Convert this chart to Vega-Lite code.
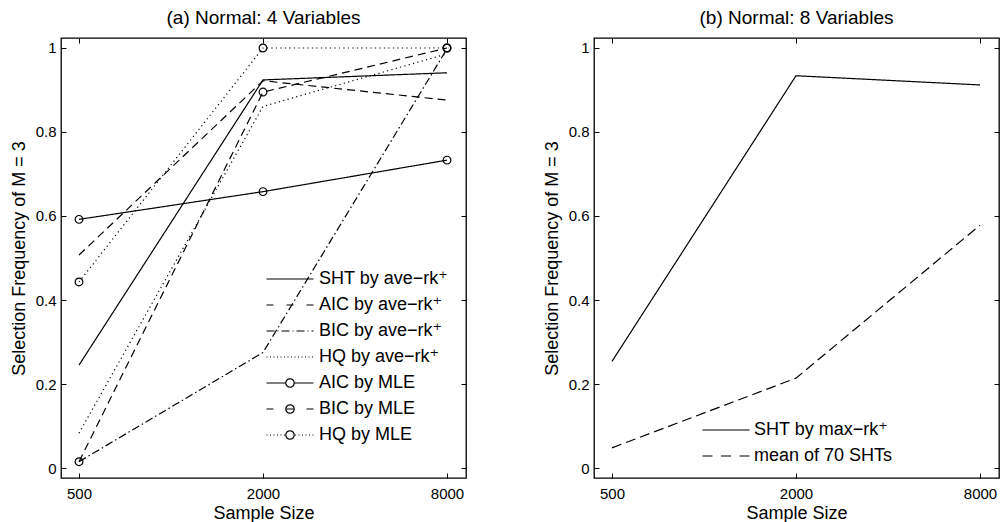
{
  "$schema": "https://vega.github.io/schema/vega-lite/v6.json",
  "padding": {"left": 9, "top": 7, "right": 0, "bottom": 0},
  "background": "white",
  "spacing": 128,
  "bounds": "flush",
  "config": {
    "font": "Liberation Sans",
    "view": {"stroke": "black", "strokeWidth": 1.3},
    "axis": {"domain": false, "grid": false, "tickColor": "black", "tickSize": -5, "tickWidth": 1, "labelFont": "Liberation Sans", "labelFontSize": 15, "labelColor": "black", "titleFont": "Liberation Sans", "titleFontSize": 18, "titleFontWeight": "normal", "titleColor": "black"},
    "title": {"font": "Liberation Sans", "fontSize": 19, "fontWeight": "normal", "color": "black", "offset": 10}
  },
  "resolve": {"scale": {"strokeDash": "independent", "shape": "independent"}, "legend": {"strokeDash": "independent", "shape": "independent"}},
  "hconcat": [
    {
      "width": 405,
      "height": 440,
      "title": {"text": "(a) Normal: 4 Variables"},
      "data": {"values": [
        {"n": 500, "value": 0.245, "series": "SHT by ave−rk⁺"},
        {"n": 2000, "value": 0.924, "series": "SHT by ave−rk⁺"},
        {"n": 8000, "value": 0.941, "series": "SHT by ave−rk⁺"},
        {"n": 500, "value": 0.507, "series": "AIC by ave−rk⁺"},
        {"n": 2000, "value": 0.922, "series": "AIC by ave−rk⁺"},
        {"n": 8000, "value": 0.876, "series": "AIC by ave−rk⁺"},
        {"n": 500, "value": 0.015, "series": "BIC by ave−rk⁺"},
        {"n": 2000, "value": 0.275, "series": "BIC by ave−rk⁺"},
        {"n": 8000, "value": 0.998, "series": "BIC by ave−rk⁺"},
        {"n": 500, "value": 0.083, "series": "HQ by ave−rk⁺"},
        {"n": 2000, "value": 0.861, "series": "HQ by ave−rk⁺"},
        {"n": 8000, "value": 0.986, "series": "HQ by ave−rk⁺"},
        {"n": 500, "value": 0.592, "series": "AIC by MLE"},
        {"n": 2000, "value": 0.658, "series": "AIC by MLE"},
        {"n": 8000, "value": 0.733, "series": "AIC by MLE"},
        {"n": 500, "value": 0.015, "series": "BIC by MLE"},
        {"n": 2000, "value": 0.895, "series": "BIC by MLE"},
        {"n": 8000, "value": 1.0, "series": "BIC by MLE"},
        {"n": 500, "value": 0.443, "series": "HQ by MLE"},
        {"n": 2000, "value": 1.0, "series": "HQ by MLE"},
        {"n": 8000, "value": 1.0, "series": "HQ by MLE"}
      ]},
      "layer": [
        {
          "mark": {"type": "line", "color": "black", "strokeWidth": 1.2, "strokeCap": "butt"},
          "encoding": {
            "x": {"field": "n", "type": "quantitative", "scale": {"type": "log", "domain": [436.6, 9231], "nice": false},
                  "axis": {"orient": "bottom", "values": [500, 2000, 8000], "format": "d", "title": "Sample Size", "labelPadding": 13, "titlePadding": 3}},
            "y": {"field": "value", "type": "quantitative", "scale": {"domain": [-0.0238, 1.0238], "nice": false, "zero": false},
                  "axis": {"orient": "left", "values": [0, 0.2, 0.4, 0.6, 0.8, 1], "format": "~g", "title": "Selection Frequency of M = 3", "labelPadding": 10, "titlePadding": 7}},
            "strokeDash": {"field": "series", "type": "nominal",
              "scale": {"range": [[1, 0], [8, 5], [8, 5], [8, 3, 1.5, 3], [1.2, 3.3], [1.2, 3.3], [1, 0]]},
              "legend": null
            }
          }
        },
        {
          "transform": [{"filter": {"field": "series", "oneOf": ["AIC by MLE", "BIC by MLE", "HQ by MLE"]}}],
          "mark": {"type": "point", "shape": "circle", "size": 60, "filled": false, "color": "black", "strokeWidth": 1.2, "opacity": 1},
          "encoding": {
            "x": {"field": "n", "type": "quantitative", "axis": {"orient": "top", "values": [500, 2000, 8000], "labels": false, "title": null}},
            "y": {"field": "value", "type": "quantitative", "axis": {"orient": "right", "values": [0, 0.2, 0.4, 0.6, 0.8, 1], "labels": false, "title": null}}
          }
        },
        {
          "mark": {"type": "point", "filled": false, "color": "black", "strokeWidth": 1.2, "size": 100, "opacity": 0},
          "encoding": {
            "x": {"field": "n", "type": "quantitative", "axis": null},
            "y": {"field": "value", "type": "quantitative", "axis": null},
            "shape": {"field": "series", "type": "nominal",
              "scale": {"domain": ["SHT by ave−rk⁺", "AIC by ave−rk⁺", "BIC by ave−rk⁺", "HQ by ave−rk⁺", "AIC by MLE", "BIC by MLE", "HQ by MLE"],
                "range": [
                  "M-4.7,0H4.7",
                  "M-4.7,0H-3.3M-0.7,0H0.7M3.3,0H4.7",
                  "M-4.7,0H-3.1M-2.5,0H-2.3M-1.7,0H-0.1M0.5,0H0.7M1.3,0H2.9M3.5,0H3.7M4.3,0H4.7",
                  "M-4.7,0h0.2M-4,0h0.2M-3.3,0h0.2M-2.6,0h0.2M-1.9,0h0.2M-1.2,0h0.2M-0.5,0h0.2M0.2,0h0.2M0.9,0h0.2M1.6,0h0.2M2.3,0h0.2M3,0h0.2M3.7,0h0.2M4.4,0h0.2",
                  "M-4.7,0H-0.85M0.85,0H4.7M0.85,0L0.785,0.325L0.601,0.601L0.325,0.785L0,0.85L-0.325,0.785L-0.601,0.601L-0.785,0.325L-0.85,0L-0.785,-0.325L-0.601,-0.601L-0.325,-0.785L0,-0.85L0.325,-0.785L0.601,-0.601L0.785,-0.325Z",
                  "M-4.7,0H-3.3M-0.7,0H0.7M3.3,0H4.7M0.85,0L0.785,0.325L0.601,0.601L0.325,0.785L0,0.85L-0.325,0.785L-0.601,0.601L-0.785,0.325L-0.85,0L-0.785,-0.325L-0.601,-0.601L-0.325,-0.785L0,-0.85L0.325,-0.785L0.601,-0.601L0.785,-0.325Z",
                  "M-4.7,0h0.2M-4,0h0.2M-3.3,0h0.2M-2.6,0h0.2M-1.9,0h0.2M-1.2,0h0.2M1,0h0.2M1.7,0h0.2M2.4,0h0.2M3.1,0h0.2M3.8,0h0.2M4.5,0h0.2M0.85,0L0.785,0.325L0.601,0.601L0.325,0.785L0,0.85L-0.325,0.785L-0.601,0.601L-0.785,0.325L-0.85,0L-0.785,-0.325L-0.601,-0.601L-0.325,-0.785L0,-0.85L0.325,-0.785L0.601,-0.601L0.785,-0.325Z"
                ]},
              "legend": {"orient": "none", "legendX": 220, "legendY": 232, "title": null, "padding": 0,
                "labelFont": "Liberation Sans, DejaVu Sans", "labelFontSize": 18, "labelColor": "black", "labelOffset": 20, "labelLimit": 300,
                "rowPadding": 8, "symbolSize": 100, "symbolStrokeWidth": 1.2, "symbolStrokeColor": "black", "symbolFillColor": "transparent", "symbolOpacity": 1,
                "encode": {"symbols": {"update": {
                  "fill": {"value": "transparent"},
                  "stroke": {"value": "black"},
                  "strokeWidth": {"value": 1.2},
                  "opacity": {"value": 1}
                }}}
              }
            }
          }
        }
      ]
    },
    {
      "width": 405,
      "height": 440,
      "title": {"text": "(b) Normal: 8 Variables"},
      "data": {"values": [
        {"n": 500, "value": 0.254, "series2": "SHT by max−rk⁺"},
        {"n": 2000, "value": 0.934, "series2": "SHT by max−rk⁺"},
        {"n": 8000, "value": 0.912, "series2": "SHT by max−rk⁺"},
        {"n": 500, "value": 0.048, "series2": "mean of 70 SHTs"},
        {"n": 2000, "value": 0.214, "series2": "mean of 70 SHTs"},
        {"n": 8000, "value": 0.578, "series2": "mean of 70 SHTs"}
      ]},
      "layer": [
        {
          "mark": {"type": "line", "color": "black", "strokeWidth": 1.2, "strokeCap": "butt"},
          "encoding": {
            "x": {"field": "n", "type": "quantitative", "scale": {"type": "log", "domain": [436.6, 9231], "nice": false},
                  "axis": {"orient": "bottom", "values": [500, 2000, 8000], "format": "d", "title": "Sample Size", "labelPadding": 13, "titlePadding": 3}},
            "y": {"field": "value", "type": "quantitative", "scale": {"domain": [-0.0238, 1.0238], "nice": false, "zero": false},
                  "axis": {"orient": "left", "values": [0, 0.2, 0.4, 0.6, 0.8, 1], "format": "~g", "title": "Selection Frequency of M = 3", "labelPadding": 10, "titlePadding": 7}},
            "strokeDash": {"field": "series2", "type": "nominal",
              "scale": {"range": [[1, 0], [10, 5]]},
              "legend": null
            }
          }
        },
        {
          "mark": {"type": "point", "filled": false, "color": "black", "strokeWidth": 1.2, "size": 100, "opacity": 0},
          "encoding": {
            "x": {"field": "n", "type": "quantitative", "axis": {"orient": "top", "values": [500, 2000, 8000], "labels": false, "title": null}},
            "y": {"field": "value", "type": "quantitative", "axis": {"orient": "right", "values": [0, 0.2, 0.4, 0.6, 0.8, 1], "labels": false, "title": null}},
            "shape": {"field": "series2", "type": "nominal",
              "scale": {"domain": ["SHT by max−rk⁺", "mean of 70 SHTs"], "range": ["M-4.7,0H4.7", "M-4.7,0H-2.7M-1,0H1M2.7,0H4.7"]},
              "legend": {"orient": "none", "legendX": 123, "legendY": 383, "title": null, "padding": 0,
                "labelFont": "Liberation Sans, DejaVu Sans", "labelFontSize": 18, "labelColor": "black", "labelOffset": 19, "labelLimit": 300,
                "rowPadding": 8, "symbolSize": 100, "symbolStrokeWidth": 1.2, "symbolStrokeColor": "black", "symbolFillColor": "transparent", "symbolOpacity": 1,
                "encode": {"symbols": {"update": {
                  "fill": {"value": "transparent"},
                  "stroke": {"value": "black"},
                  "strokeWidth": {"value": 1.2},
                  "opacity": {"value": 1}
                }}}
              }
            }
          }
        }
      ]
    }
  ]
}
